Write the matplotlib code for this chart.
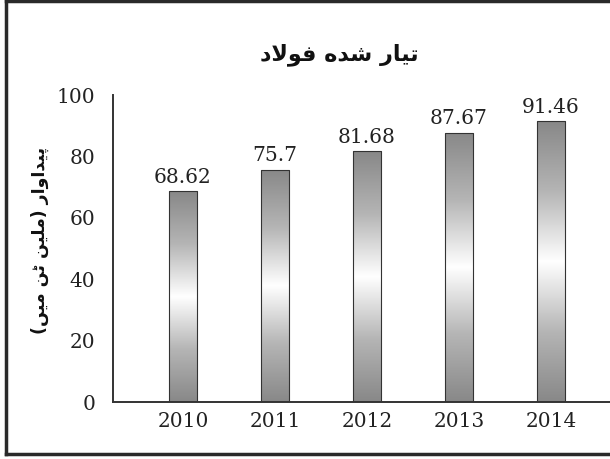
import numpy as np
import matplotlib
matplotlib.use("Agg")
import matplotlib.pyplot as plt
from matplotlib.colors import LinearSegmentedColormap
from matplotlib.lines import Line2D

# ==========================
# DATA
# ==========================

years = ["2010", "2011", "2012", "2013", "2014"]
production = [68.62, 75.7, 81.68, 87.67, 91.46]
value_labels = ["68.62", "75.7", "81.68", "87.67", "91.46"]
y_ticks = [0, 20, 40, 60, 80, 100]

# Urdu text, shaped by hand (presentation forms, visual order)
# title: تیار شدہ فولاد  (heh goal drawn with the arabic heh form, no font has it)
title_forms = ["\uFE97\uFBFF\uFE8E\uFEAD", "\uFEB7\uFEAA\uFEE9", "\uFED3\uFEEE\uFEFB\uFEA9"]
# ylabel: پیداوار (ملین ٹن میں)
ylabel_forms = ["\uFB58\uFBFF\uFEAA\uFE8D\uFEED\uFE8D\uFEAD", "(\uFEE3\uFEE0\uFBFF\uFEE6",
                "\uFB68\uFEE6", "\uFEE3\uFBFF\uFB9F)"]


def visual(words):
    # reverse word order and letters for right-to-left display
    out = []
    for w in reversed(words):
        w = w[::-1]
        w = w.replace("(", "\0").replace(")", "(").replace("\0", ")")
        out.append(w)
    return " ".join(out)


title_text = visual(title_forms)
ylabel_text = visual(ylabel_forms)

# ==========================
# FIGURE
# ==========================

plt.rcParams["font.family"] = ["DejaVu Serif"]
text_color = "#222222"
urdu_fonts = ["DejaVu Sans", "DejaVu Serif"]

fig = plt.figure(figsize=(6.10, 4.59), dpi=100)
ax = fig.add_axes([0.186, 0.124, 0.814, 0.669])

x = np.arange(len(years))
width = 0.31

bars = ax.bar(x, production, width, color="none", edgecolor="#333333",
              linewidth=0.8, zorder=3)

cmap = LinearSegmentedColormap.from_list(
    "steel", ["#888888", "#b5b5b5", "#ffffff", "#b5b5b5", "#888888"])
grad = np.linspace(0, 1, 256).reshape(-1, 1)

for b in bars:
    bx, by = b.get_x(), b.get_y()
    bw, bh = b.get_width(), b.get_height()
    im = ax.imshow(grad, cmap=cmap, aspect="auto",
                   extent=[bx, bx + bw, by, by + bh], zorder=2)
    im.set_clip_path(b)

for xi, v, lab in zip(x, production, value_labels):
    ax.text(xi, v + 1.5, lab, ha="center", va="bottom",
            fontsize=14.5, color=text_color)

ax.set_xlim(-0.755, 4.64)
ax.set_ylim(0, 100)
ax.set_xticks(x)
ax.set_xticklabels(years, fontsize=14.5, color=text_color)
ax.set_yticks(y_ticks)
ax.set_yticklabels([str(t) for t in y_ticks], fontsize=14.5, color=text_color)
ax.tick_params(axis="both", length=0)
ax.tick_params(axis="x", pad=7)
ax.tick_params(axis="y", pad=13)

for s in ["top", "right"]:
    ax.spines[s].set_visible(False)
for s in ["left", "bottom"]:
    ax.spines[s].set_color("#333333")
    ax.spines[s].set_linewidth(1.4)

fig.text(0.557, 0.88, title_text, ha="center", va="center",
         fontsize=16, fontweight="bold", family=urdu_fonts, color="#111111")
fig.text(0.066, 0.476, ylabel_text, ha="center", va="center", rotation=90,
         fontsize=12.5, fontweight="bold", family=urdu_fonts, color="#111111")

# page frame
frame_kw = dict(color="#2a2a2a", linewidth=2.5, transform=fig.transFigure)
fig.add_artist(Line2D([0.01, 0.01], [0.011, 0.998], **frame_kw))
fig.add_artist(Line2D([0.01, 1.0], [0.997, 0.997], **frame_kw))
fig.add_artist(Line2D([0.01, 1.0], [0.011, 0.011], **frame_kw))

fig.savefig("out.png", dpi=100)
